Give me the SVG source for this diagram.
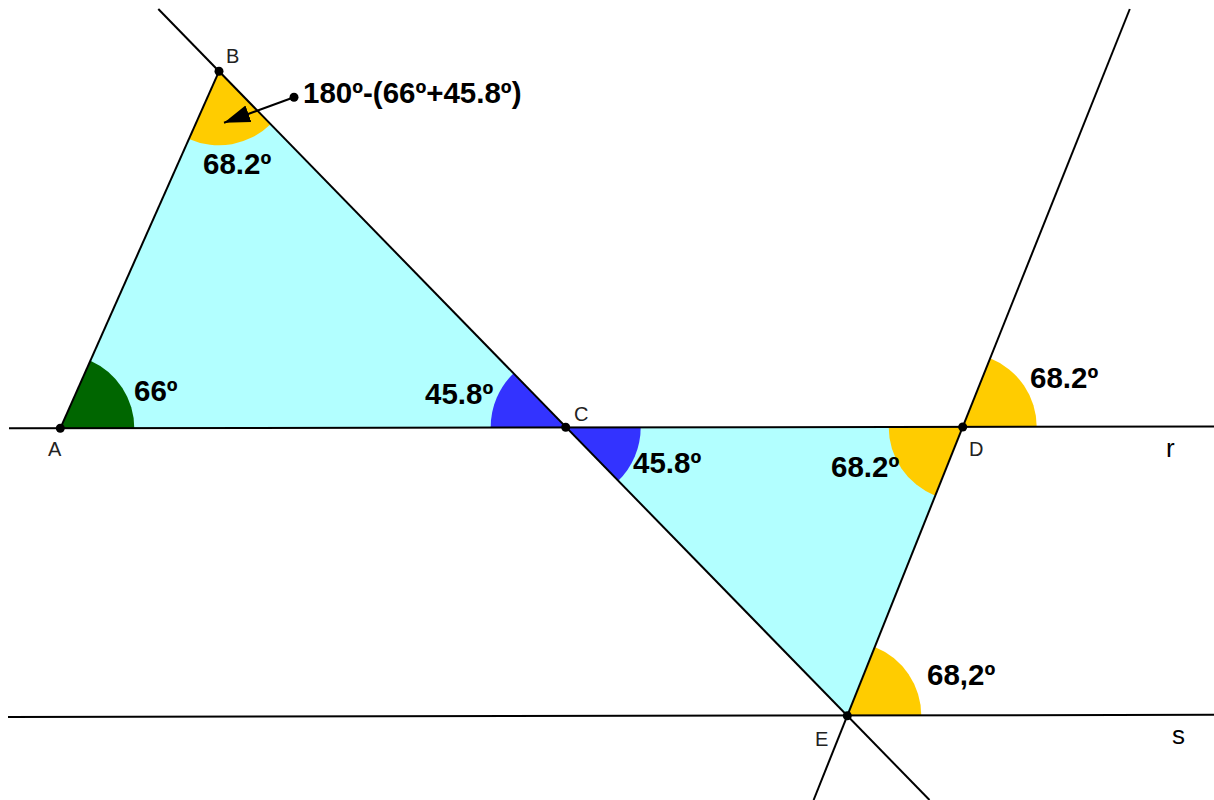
<svg xmlns="http://www.w3.org/2000/svg" width="1214" height="800" viewBox="0 0 1214 800">
<defs>
<style>
.tri{fill:#B2FFFF;stroke:none}
.yel{fill:#FFCC00;stroke:none}
.blu{fill:#3333FF;stroke:none}
.grn{fill:#006600;stroke:none}
.ln{stroke:#000;stroke-width:2;fill:none}
.dot{fill:#000}
.pl{font-family:"Liberation Sans",Arial,sans-serif;font-size:20px;fill:#222}
.ang{font-family:"Liberation Sans",Arial,sans-serif;font-size:29.5px;font-weight:bold;fill:#000}
.ll{font-family:"Liberation Sans",Arial,sans-serif;font-size:26px;fill:#000}
</style>
<marker id="ah" viewBox="0 0 10 10" refX="10" refY="5" markerWidth="26" markerHeight="22" markerUnits="userSpaceOnUse" orient="auto" preserveAspectRatio="none">
<path d="M0,1 L10,5 L0,9 Z" fill="#000"/>
</marker>
</defs>
<rect width="1214" height="800" fill="#fff"/>
<g id="triangles">
<polygon class="tri" points="60.3,428.3 219,71.3 565.7,427.3"/>
<polygon class="tri" points="565.7,427.3 962.7,427 847.3,715.7"/>
</g>
<g id="angles">
<g id="angle-A"><path class="grn" d="M60.3,428.3 L134.3,428.3 A74,74 0 0 0 90.4,360.7 Z"/><text class="ang" x="134" y="401">66º</text></g>
<g id="angle-B"><path class="yel" d="M219,71.3 L270.6,124.3 A74,74 0 0 1 188.9,138.9 Z"/><text class="ang" x="203" y="174">68.2º</text></g>
<g id="angle-C1"><path class="blu" d="M565.7,427.3 L490.7,427.3 A75,75 0 0 1 513.4,373.5 Z"/><text class="ang" x="425" y="404">45.8º</text></g>
<g id="angle-C2"><path class="blu" d="M565.7,427.3 L640.7,427.3 A75,75 0 0 1 618,481.1 Z"/><text class="ang" x="633" y="473">45.8º</text></g>
<g id="angle-D1"><path class="yel" d="M962.7,427 L1036.7,427 A74,74 0 0 0 990.2,358.3 Z"/><text class="ang" x="1030" y="388">68.2º</text></g>
<g id="angle-D2"><path class="yel" d="M962.7,427 L935.2,495.7 A74,74 0 0 1 888.7,427 Z"/><text class="ang" x="831" y="477">68.2º</text></g>
<g id="angle-E"><path class="yel" d="M847.3,715.7 L921.3,715.7 A74,74 0 0 0 874.8,647 Z"/><text class="ang" x="927" y="685">68,2º</text></g>
</g>
<g id="connectors">
<line class="ln" x1="9" y1="428.3" x2="1214" y2="426.5"/>
<line class="ln" x1="8" y1="717" x2="1214" y2="714.8"/>
<line class="ln" x1="158.3" y1="9" x2="929.5" y2="800"/>
<line class="ln" x1="1129.8" y1="9" x2="813.6" y2="800"/>
<line class="ln" x1="60.3" y1="428.3" x2="219" y2="71.3"/>
<line class="ln" x1="294" y1="97.3" x2="224" y2="122.7" marker-end="url(#ah)"/>
</g>
<g id="point-A"><circle class="dot" cx="60.3" cy="428.3" r="4.5"/><text class="pl" x="48" y="456">A</text></g>
<g id="point-B"><circle class="dot" cx="219" cy="71.3" r="4.5"/><text class="pl" x="226" y="63">B</text></g>
<g id="point-C"><circle class="dot" cx="565.7" cy="427.3" r="4.5"/><text class="pl" x="574" y="421">C</text></g>
<g id="point-D"><circle class="dot" cx="962.7" cy="427" r="4.5"/><text class="pl" x="969" y="456">D</text></g>
<g id="point-E"><circle class="dot" cx="847.3" cy="715.7" r="4.5"/><text class="pl" x="815" y="746">E</text></g>
<g id="annotation"><circle class="dot" cx="294" cy="97.3" r="4.5"/><text class="ang" x="303" y="103">180º-(66º+45.8º)</text></g>
<g id="line-labels">
<text class="ll" x="1166" y="457">r</text>
<text class="ll" x="1172" y="744">s</text>
</g>
</svg>
